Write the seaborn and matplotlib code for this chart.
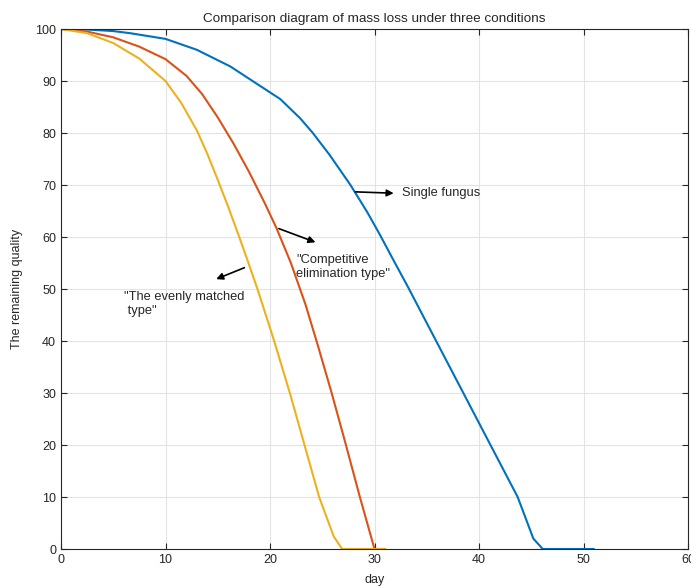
import seaborn as sns
import matplotlib
matplotlib.use("Agg")
import matplotlib.pyplot as plt

# values
single_day = [0, 2.5, 5, 6.6, 10, 13, 16.2, 19.4, 21, 22.9, 24.1, 25.7, 27.7,
              29.3, 30.5, 31.8, 33.2, 35.9, 38.5, 41.1, 43.7, 45.2, 46.1, 51]
single_mass = [100, 99.9, 99.6, 99.2, 98.1, 96, 92.8, 88.6, 86.5, 82.8, 80, 75.8, 70,
               64.8, 60.5, 55.6, 50.4, 40, 30, 20, 10, 2, 0, 0]

compet_day = [0, 2.5, 5, 7.5, 10, 12, 13.5, 15, 16.5, 18, 19.5, 20.6, 22, 23.4,
              24.6, 25.9, 27.2, 28.6, 30, 31]
compet_mass = [100, 99.5, 98.4, 96.6, 94.2, 91, 87.5, 83, 78, 72.5, 66.5, 61.8, 55, 47,
               39, 30, 20.5, 10, 0, 0]

even_day = [0, 2.5, 5, 7.5, 10, 11.5, 13, 14, 15, 16, 17, 17.8, 18.8, 20.4,
            21.9, 23.3, 24.7, 26.1, 26.9, 31]
even_mass = [100, 99.2, 97.3, 94.3, 90, 85.8, 80.5, 76, 71, 65.8, 60.3, 55.8, 50, 40,
             30, 20, 10, 2.4, 0, 0]

colors = ["#0072BD", "#D95319", "#EDB120"]

sns.set_style("whitegrid")
plt.rcParams.update({"font.family": ["Liberation Sans", "DejaVu Sans"],
                     "font.size": 9})

fig = plt.figure(figsize=(6.91, 5.87), dpi=100)
ax = fig.add_axes([61 / 691, 1 - 549 / 587, 627 / 691, 520 / 587])

sns.lineplot(x=single_day, y=single_mass, color=colors[0], lw=1.5, ax=ax)
sns.lineplot(x=compet_day, y=compet_mass, color=colors[1], lw=1.5, ax=ax)
sns.lineplot(x=even_day, y=even_mass, color=colors[2], lw=1.5, ax=ax)

ax.set_xlim(0, 60)
ax.set_ylim(0, 100)
ax.set_xticks(range(0, 61, 10))
ax.set_yticks(range(0, 101, 10))
ax.grid(True, color="#e3e3e3", lw=0.8)
for s in ax.spines.values():
    s.set_color("#262626")
    s.set_linewidth(0.8)
ax.tick_params(direction="in", length=4, width=0.8, color="#262626",
               labelcolor="#262626", labelsize=9, top=True, right=True,
               left=True, bottom=True)
ax.set_title("Comparison diagram of mass loss under three conditions",
             fontsize=9.7, color="#262626", pad=5)
ax.set_xlabel("day", fontsize=9, color="#262626", labelpad=6)
ax.set_ylabel("The remaining quality", fontsize=9, color="#262626", labelpad=9)

arrow = dict(arrowstyle="-|>", color="black", lw=1.2, mutation_scale=10)
ax.annotate("", xy=(32.1, 68.4), xytext=(27.9, 68.7), arrowprops=arrow)
ax.text(32.6, 68.4, "Single fungus", fontsize=9.3, va="center", ha="left")

ax.annotate("", xy=(24.6, 58.8), xytext=(20.6, 61.8), arrowprops=arrow)
ax.text(22.5, 54.3, "\"Competitive\nelimination type\"", fontsize=9.3,
        va="center", ha="left", linespacing=1.25)

ax.annotate("", xy=(14.6, 51.7), xytext=(17.8, 54.3), arrowprops=arrow)
ax.text(6.0, 47.1, "\"The evenly matched\n type\"", fontsize=9.3,
        va="center", ha="left", linespacing=1.25)

fig.savefig("out.png", dpi=100)
